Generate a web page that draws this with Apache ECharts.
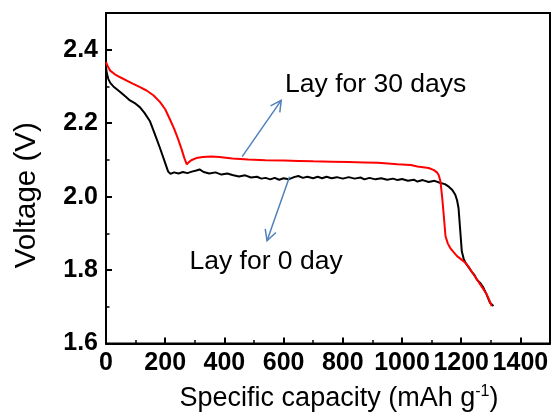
<!DOCTYPE html>
<html>
<head>
<meta charset="utf-8">
<script src="https://cdn.jsdelivr.net/npm/echarts@6/dist/echarts.min.js"></script>
<style>
  html, body { margin: 0; padding: 0; background: #fff; }
  #chart { width: 553px; height: 417px; }
</style>
</head>
<body>
<div id="chart"></div>
<script>
// Discharge curves: specific capacity (mAh/g) vs voltage (V)
const day0Cap = [0, 3, 8, 15, 25, 48, 65, 81, 100, 115, 130, 148, 165, 182, 198, 210, 218, 230, 245, 260, 275, 290, 305, 316, 330, 349, 370, 390, 410, 427, 449, 470, 490, 510, 525, 539, 555, 570, 585, 600, 617, 635, 650, 665, 680, 700, 715, 730, 745, 762, 780, 800, 820, 840, 860, 873, 890, 910, 930, 950, 970, 985, 1000, 1020, 1040, 1052, 1070, 1090, 1110, 1130, 1145, 1158, 1170, 1180, 1186, 1191, 1197, 1202, 1208, 1214, 1225, 1235, 1245, 1253, 1264, 1275, 1286, 1297, 1309];
const day0Volt = [2.352, 2.335, 2.320, 2.309, 2.300, 2.285, 2.273, 2.262, 2.253, 2.243, 2.228, 2.206, 2.170, 2.133, 2.096, 2.068, 2.062, 2.066, 2.063, 2.067, 2.064, 2.068, 2.071, 2.074, 2.067, 2.063, 2.066, 2.060, 2.063, 2.059, 2.055, 2.058, 2.052, 2.054, 2.049, 2.051, 2.047, 2.051, 2.046, 2.050, 2.047, 2.053, 2.056, 2.051, 2.054, 2.050, 2.054, 2.050, 2.054, 2.050, 2.053, 2.049, 2.053, 2.049, 2.052, 2.047, 2.051, 2.047, 2.050, 2.046, 2.049, 2.045, 2.048, 2.043, 2.046, 2.041, 2.045, 2.040, 2.043, 2.037, 2.034, 2.027, 2.018, 2.005, 1.990, 1.969, 1.905, 1.851, 1.832, 1.820, 1.808, 1.796, 1.786, 1.774, 1.765, 1.752, 1.733, 1.711, 1.702];

const day30Cap = [0, 6, 14, 30, 48, 70, 92, 115, 137, 160, 182, 200, 215, 230, 243, 255, 265, 273, 280, 288, 305, 327, 355, 383, 427, 480, 539, 600, 650, 700, 762, 820, 873, 919, 985, 1030, 1052, 1090, 1108, 1118, 1124, 1130, 1136, 1141, 1147, 1155, 1163, 1175, 1186, 1200, 1214, 1228, 1242, 1253, 1264, 1275, 1286, 1295, 1303];
const day30Volt = [2.366, 2.355, 2.343, 2.333, 2.325, 2.316, 2.307, 2.298, 2.289, 2.276, 2.258, 2.238, 2.212, 2.185, 2.158, 2.130, 2.104, 2.088, 2.094, 2.099, 2.105, 2.108, 2.109, 2.108, 2.104, 2.101, 2.099, 2.098, 2.097, 2.096, 2.095, 2.094, 2.093, 2.092, 2.088, 2.086, 2.082, 2.078, 2.072, 2.066, 2.059, 2.041, 1.996, 1.950, 1.892, 1.872, 1.860, 1.848, 1.838, 1.829, 1.820, 1.805, 1.788, 1.775, 1.761, 1.748, 1.734, 1.718, 1.702];

// Annotations, anchored in data units (capacity, voltage)
const noteText = ['Lay for 30 days', 'Lay for 0 day'];
const noteAt = [[605, 2.305], [282, 1.822]];
const arrowFrom = [[460, 2.109], [620, 2.054]];
const arrowTo = [[592, 2.262], [544, 1.880]];

const zip = (xs, ys) => xs.map((x, i) => [x, ys[i]]);
const FONT = '"Liberation Sans", Arial, sans-serif';

const chart = echarts.init(document.getElementById('chart'), null, { renderer: 'canvas' });

const tickLabel = {
  fontFamily: FONT, fontSize: 25, fontWeight: 'bold', color: '#000'
};

chart.setOption({
  animation: false,
  backgroundColor: '#fff',
  grid: {
    left: 106, right: 1, top: 13, bottom: 71,
    show: true, borderColor: '#000', borderWidth: 2
  },
  xAxis: [
    {
      type: 'value', min: 0, max: 1500, interval: 200,
      splitLine: { show: false },
      axisLine: { show: true, lineStyle: { color: '#000', width: 2 } },
      axisTick: { show: true, inside: true, length: 6, lineStyle: { color: '#000', width: 2 } },
      axisLabel: Object.assign({ margin: 7, formatter: v => (v > 1450 ? '' : String(v)) }, tickLabel),
      name: 'Specific capacity (mAh g{sup|-1})',
      nameLocation: 'middle', nameGap: 40,
      nameTextStyle: {
        fontFamily: FONT, fontSize: 27, color: '#000', padding: [0, 0, 0, 22],
        rich: { sup: { fontFamily: FONT, fontSize: 16, color: '#000', padding: [0, 0, 14, 0] } }
      }
    },
    {
      type: 'value', min: 0, max: 1500, interval: 100, position: 'bottom', offset: 0,
      splitLine: { show: false },
      axisLine: { show: false },
      axisTick: { show: true, inside: true, length: 3.5, lineStyle: { color: '#000', width: 1.5 } },
      axisLabel: { show: false }
    }
  ],
  yAxis: [
    {
      type: 'value', min: 1.6, max: 2.5, interval: 0.2,
      splitLine: { show: false },
      axisLine: { show: true, lineStyle: { color: '#000', width: 2 } },
      axisTick: { show: true, inside: true, length: 6, lineStyle: { color: '#000', width: 2 } },
      axisLabel: Object.assign({ margin: 8, formatter: v => (v > 2.45 ? '' : v.toFixed(1)) }, tickLabel),
      name: 'Voltage (V)',
      nameLocation: 'middle', nameGap: 64,
      nameTextStyle: { fontFamily: FONT, fontSize: 29.5, color: '#000', padding: [0, 34, 0, 0] }
    },
    {
      type: 'value', min: 1.6, max: 2.5, interval: 0.1, position: 'left', offset: 0,
      splitLine: { show: false },
      axisLine: { show: false },
      axisTick: { show: true, inside: true, length: 3.5, lineStyle: { color: '#000', width: 1.5 } },
      axisLabel: { show: false }
    }
  ],
  series: [
    {
      name: 'Lay for 0 day', type: 'line', xAxisIndex: 0, yAxisIndex: 0,
      data: zip(day0Cap, day0Volt), showSymbol: false, symbol: 'none',
      lineStyle: { color: '#000', width: 2 }, z: 3
    },
    {
      name: 'Lay for 30 days', type: 'line', xAxisIndex: 0, yAxisIndex: 0,
      data: zip(day30Cap, day30Volt), showSymbol: false, symbol: 'none',
      lineStyle: { color: '#ff0000', width: 2 }, z: 4
    }
  ]
});

// Pointer arrows and labels placed through the axes' own scale
function toPx(p) { return chart.convertToPixel({ xAxisIndex: 0, yAxisIndex: 0 }, p); }

const graphics = [];
const ARROW_COLOR = '#4f81bd';
arrowFrom.forEach((from, i) => {
  const a = toPx(from), b = toPx(arrowTo[i]);
  const dx = a[0] - b[0], dy = a[1] - b[1];
  const len = Math.hypot(dx, dy);
  const ux = dx / len, uy = dy / len;
  const ang = 28 * Math.PI / 180, arm = 12;
  const rot = s => [
    b[0] + arm * (ux * Math.cos(s * ang) - uy * Math.sin(s * ang)),
    b[1] + arm * (ux * Math.sin(s * ang) + uy * Math.cos(s * ang))
  ];
  graphics.push({
    type: 'polyline', z: 10, silent: true,
    shape: { points: [a, b] },
    style: { stroke: ARROW_COLOR, lineWidth: 1.5, fill: null }
  });
  graphics.push({
    type: 'polyline', z: 10, silent: true,
    shape: { points: [rot(1), b, rot(-1)] },
    style: { stroke: ARROW_COLOR, lineWidth: 1.5, fill: null }
  });
});
noteText.forEach((t, i) => {
  const p = toPx(noteAt[i]);
  graphics.push({
    type: 'text', z: 10, silent: true, x: p[0], y: p[1],
    style: {
      text: t, fill: '#000', font: '26.5px ' + FONT,
      align: 'left', verticalAlign: 'middle'
    }
  });
});
chart.setOption({ graphic: graphics });
</script>
</body>
</html>
